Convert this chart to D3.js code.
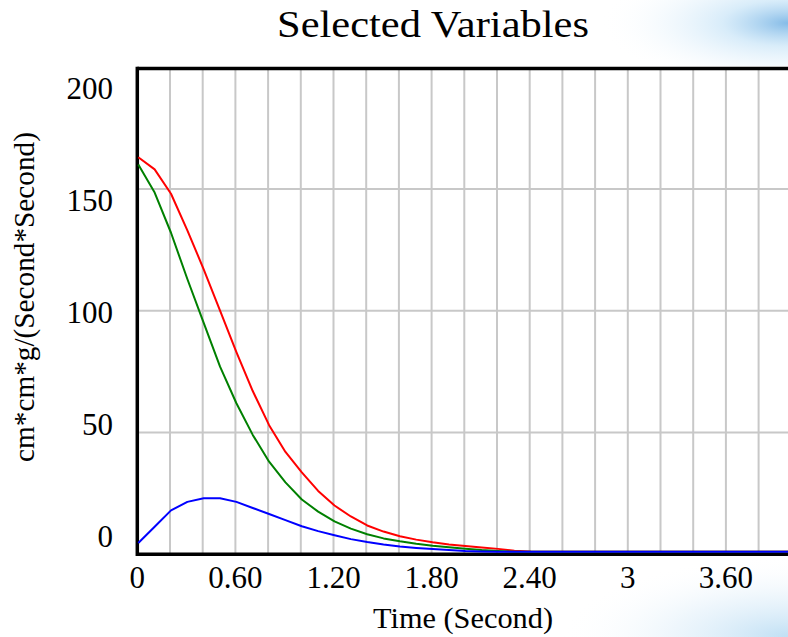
<!DOCTYPE html>
<html>
<head>
<meta charset="utf-8">
<script src="https://cdn.jsdelivr.net/npm/d3@7"></script>
<style>
  html, body { margin: 0; padding: 0; background: #fff; overflow: hidden; }
  svg { display: block; }
  text { font-family: "Times New Roman", "Liberation Serif", "DejaVu Serif", serif; fill: #000; }
</style>
</head>
<body>
<div id="chart"></div>
<script>
// ---- data ----
const chartTitle = "Selected Variables";
const xAxisTitle = "Time (Second)";
const yAxisTitle = "cm*cm*g/(Second*Second)";
const times = [0, 0.1, 0.2, 0.3, 0.4, 0.5, 0.6, 0.7, 0.8, 0.9, 1.0, 1.1, 1.2, 1.3, 1.4, 1.5, 1.6, 1.7, 1.8, 1.9, 2.0, 2.1, 2.2, 2.3, 2.4, 3.2, 4.0];
const redSeries   = [162, 157, 147, 132, 116, 99, 82, 66, 52, 41, 32.6, 25, 19, 14.5, 10.8, 8.3, 6.4, 5, 3.9, 3, 2.4, 1.8, 1.2, 0.4, 0.1, 0, 0];
const greenSeries = [159, 147.5, 131, 112, 94, 76, 61, 48, 37, 28.5, 21.5, 16.5, 12.5, 9.5, 7.2, 5.5, 4.3, 3.3, 2.5, 1.9, 1.3, 0.7, 0.3, 0, 0, 0, 0];
const blueSeries  = [3.6, 10.3, 17, 20.5, 22, 22, 20.5, 18, 15.5, 13, 10.5, 8.5, 6.8, 5.2, 4, 3, 2.2, 1.6, 1.1, 0.7, 0.3, 0.1, 0, 0, 0, 0, 0];
const xTickValues = [0, 0.6, 1.2, 1.8, 2.4, 3, 3.6];
const xTickLabels = ["0", "0.60", "1.20", "1.80", "2.40", "3", "3.60"];
const yTickValues = [0, 50, 100, 150, 200];
const yTickLabels = ["0", "50", "100", "150", "200"];

const W = 788, H = 637;
const svg = d3.select("#chart").append("svg").attr("width", W).attr("height", H);

// background glow (window decoration at right)
const defs = svg.append("defs");
const g1 = defs.append("radialGradient").attr("id", "glowTop").attr("cx", "1").attr("cy", "0.35").attr("r", "1");
g1.append("stop").attr("offset", "0").attr("stop-color", "#7fb8e6").attr("stop-opacity", 0.95);
g1.append("stop").attr("offset", "0.35").attr("stop-color", "#bfe0f6").attr("stop-opacity", 0.6);
g1.append("stop").attr("offset", "1").attr("stop-color", "#ffffff").attr("stop-opacity", 0);
const g2 = defs.append("radialGradient").attr("id", "glowBot").attr("cx", "1").attr("cy", "1").attr("r", "1");
g2.append("stop").attr("offset", "0").attr("stop-color", "#b9dcf3").attr("stop-opacity", 0.9);
g2.append("stop").attr("offset", "0.5").attr("stop-color", "#dcedf9").attr("stop-opacity", 0.5);
g2.append("stop").attr("offset", "1").attr("stop-color", "#ffffff").attr("stop-opacity", 0);
svg.append("rect").attr("x", 600).attr("y", 0).attr("width", 188).attr("height", 66).attr("fill", "url(#glowTop)");
svg.append("rect").attr("x", 560).attr("y", 556).attr("width", 228).attr("height", 81).attr("fill", "url(#glowBot)");

// ---- scales ----
const plotLeft = 137.3, plotRight = 791.3, plotTop = 67.2, plotBottom = 554.3;
const x = d3.scaleLinear().domain([0, 4]).range([plotLeft, plotRight]);
const y = d3.scaleLinear().domain([0, 200]).range([plotBottom, plotTop]);
// Vensim spreads the value labels evenly inside the plot's height
const yLabel = d3.scaleLinear().domain([0, 200]).range([536.5, 88]);

// plot background
svg.append("rect").attr("x", plotLeft).attr("y", plotTop).attr("width", plotRight - plotLeft).attr("height", plotBottom - plotTop).attr("fill", "#fff");

// grid
const grid = svg.append("g").attr("stroke", "#c8c8c8").attr("stroke-width", 2);
grid.selectAll("line.v").data(x.ticks(20).filter(t => t > 0 && t < 4)).join("line")
  .attr("class", "v")
  .attr("x1", d => x(d)).attr("x2", d => x(d))
  .attr("y1", y(200)).attr("y2", y(0));
grid.selectAll("line.h").data(yTickValues.filter(v => v > 0 && v < 200)).join("line")
  .attr("class", "h")
  .attr("x1", x(0)).attr("x2", x(4))
  .attr("y1", d => y(d)).attr("y2", d => y(d));

// frame
const frame = svg.append("g").attr("stroke", "#000").attr("stroke-width", 3.5).attr("fill", "none");
frame.append("line").attr("x1", x(0)).attr("x2", x(4)).attr("y1", y(200) + 1.3).attr("y2", y(200) + 1.3);
frame.append("line").attr("x1", x(0)).attr("x2", x(4)).attr("y1", y(0)).attr("y2", y(0));
frame.append("line").attr("x1", x(0)).attr("x2", x(0)).attr("y1", y(200) - 0.5).attr("y2", y(0) + 1.7);

// series
const series = [
  { name: "red", values: redSeries, color: "#ff0000" },
  { name: "green", values: greenSeries, color: "#008000" },
  { name: "blue", values: blueSeries, color: "#0000ff" }
];
const line = d3.line().x((d, i) => x(times[i])).y(d => y(d));
svg.append("g").attr("transform", "translate(1,-2.5)")
  .selectAll("path").data(series).join("path")
  .attr("d", d => line(d.values))
  .attr("fill", "none")
  .attr("stroke", d => d.color)
  .attr("stroke-width", 2)
  .attr("stroke-linejoin", "round");

// tick labels
svg.append("g").selectAll("text").data(xTickValues).join("text")
  .attr("x", d => x(d)).attr("y", 588)
  .attr("text-anchor", "middle")
  .style("font-size", "31px")
  .text((d, i) => xTickLabels[i]);
svg.append("g").selectAll("text").data(yTickValues).join("text")
  .attr("x", 113).attr("y", d => yLabel(d))
  .attr("dy", "0.34em")
  .attr("text-anchor", "end")
  .style("font-size", "31px")
  .text((d, i) => yTickLabels[i]);

// titles
svg.append("text").attr("x", 277).attr("y", 37)
  .style("font-size", "37px")
  .attr("textLength", 312).attr("lengthAdjust", "spacingAndGlyphs")
  .text(chartTitle);
svg.append("text").attr("x", 373).attr("y", 628)
  .style("font-size", "30px")
  .attr("textLength", 180).attr("lengthAdjust", "spacingAndGlyphs")
  .text(xAxisTitle);
svg.append("text")
  .attr("transform", "translate(34,462) rotate(-90)")
  .style("font-size", "30px")
  .attr("textLength", 330).attr("lengthAdjust", "spacingAndGlyphs")
  .text(yAxisTitle);
</script>
</body>
</html>
